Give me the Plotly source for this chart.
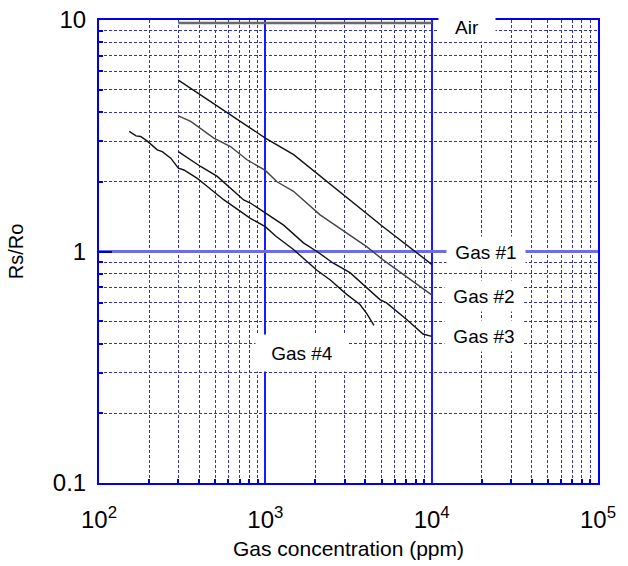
import math
import plotly.graph_objects as go

# Sensitivity curves (Rs/Ro vs gas concentration)
air_ppm = [300, 10000]
air_ratio = [9.7, 9.7]

gas1_ppm = [300, 810, 1000, 1480, 2040, 3230, 5100, 10000]
gas1_ratio = [5.50, 3.41, 3.09, 2.62, 2.18, 1.67, 1.28, 0.88]

gas2_ppm = [300, 356, 490, 617, 776, 1000, 1175, 1476, 2133, 3083, 4064, 5105, 7047, 10000]
gas2_ratio = [3.85, 3.65, 3.09, 2.84, 2.49, 2.24, 2.00, 1.82, 1.44, 1.20, 1.05, 0.92, 0.78, 0.65]

gas3_ppm = [300, 356, 408, 514, 741, 813, 1000, 1288, 1694, 2042, 2564, 3228, 4887, 5358,
            7047, 8872, 10000]
gas3_ratio = [2.70, 2.49, 2.33, 2.11, 1.67, 1.62, 1.47, 1.30, 1.09, 1.00, 0.89, 0.81, 0.62, 0.60,
              0.51, 0.44, 0.43]

gas4_ppm = [152, 167, 178, 196, 224, 240, 270, 300, 324, 390, 448, 564, 813, 1000, 1148, 1476,
            2042, 2449, 3083, 3707, 4064, 4498]
gas4_ratio = [3.30, 3.16, 3.14, 2.99, 2.75, 2.70, 2.53, 2.29, 2.25, 2.07, 1.91, 1.67, 1.39, 1.28,
              1.17, 1.02, 0.83, 0.755, 0.653, 0.59, 0.54, 0.48]

x_ticks = [100, 1000, 10000, 100000]
x_ticktext = ["10<sup>2</sup>", "10<sup>3</sup>", "10<sup>4</sup>", "10<sup>5</sup>"]
y_ticks = [0.1, 1, 10]
y_ticktext = ["0.1", "1", "10"]

# curve labels: (text, ppm, ratio, box width, box height)
labels = [
    ("Air", 16200, 9.3, 56, 28),
    ("Gas #1", 21200, 1.0, 78, 30),
    ("Gas #2", 20600, 0.64, 78, 30),
    ("Gas #3", 20600, 0.432, 78, 30),
    ("Gas #4", 1650, 0.365, 92, 36),
]

x_minor = [k * 10 ** d for d in (2, 3, 4) for k in range(2, 10)]
y_minor = [k * 10 ** d for d in (-1, 0) for k in range(2, 10)]

fig = go.Figure()
fig.add_trace(go.Scatter(x=air_ppm, y=air_ratio, mode="lines",
                         line=dict(color="#6a6a6a", width=2.6)))
for xs, ys, col in [(gas1_ppm, gas1_ratio, "#111111"),
                    (gas2_ppm, gas2_ratio, "#444444"),
                    (gas3_ppm, gas3_ratio, "#111111"),
                    (gas4_ppm, gas4_ratio, "#111111")]:
    fig.add_trace(go.Scatter(x=xs, y=ys, mode="lines",
                             line=dict(color=col, width=1.4)))

for text, px_, ry, w, h in labels:
    fig.add_annotation(
        x=math.log10(px_), y=math.log10(ry), xref="x", yref="y",
        text=text, showarrow=False, bgcolor="white",
        width=w, height=h, borderpad=0,
        font=dict(size=19, color="black", family="Liberation Sans"),
    )

fig.update_xaxes(
    type="log", range=[2, 5],
    tickmode="array", tickvals=x_ticks, ticktext=x_ticktext,
    ticks="", showline=True, mirror=True, linecolor="#0000ee", linewidth=2,
    showgrid=True, gridcolor="#1a1aff", gridwidth=1.6,
    tickfont=dict(size=24, family="Liberation Sans", color="black"),
    ticklabelstandoff=14, ticklabeloverflow="allow",
    minor=dict(tickmode="array", tickvals=x_minor, showgrid=True,
               gridcolor="#3535a8", griddash="3px,2px", gridwidth=1,
               ticks="inside", ticklen=4, tickcolor="#0000cc", tickwidth=1.5),
    title=dict(text="Gas concentration (ppm)", standoff=10,
               font=dict(size=21, family="Liberation Sans", color="black")),
    zeroline=False,
)
fig.update_yaxes(
    type="log", range=[-1, 1],
    tickmode="array", tickvals=y_ticks, ticktext=y_ticktext,
    ticks="inside", ticklen=13, tickcolor="#0000cc", tickwidth=2,
    showline=True, mirror=True, linecolor="#0000ee", linewidth=2,
    showgrid=True, gridcolor="#6c6ce8", gridwidth=2.5,
    tickfont=dict(size=24, family="Liberation Sans", color="black"),
    ticklabelstandoff=6, ticklabeloverflow="allow",
    minor=dict(tickmode="array", tickvals=y_minor, showgrid=True,
               gridcolor="#3535a8", griddash="3px,2px", gridwidth=1,
               ticks="inside", ticklen=4, tickcolor="#0000cc", tickwidth=1.5),
    title=dict(text="Rs/Ro", standoff=24,
               font=dict(size=20, family="Liberation Sans", color="black")),
    zeroline=False,
)

fig.update_layout(
    width=628, height=566,
    margin=dict(l=99, r=30, t=20, b=83, autoexpand=False),
    plot_bgcolor="white", paper_bgcolor="white",
    showlegend=False,
)

# drop the browser's default body margin so the figure fills the window
fig.write_html("out.html", config={"displayModeBar": False},
               post_script="document.body.style.margin='0';")
